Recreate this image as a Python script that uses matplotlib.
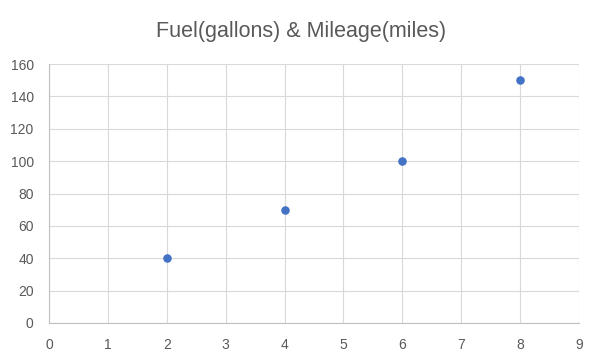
import matplotlib
matplotlib.use("Agg")
import matplotlib.pyplot as plt

fuel = [2, 4, 6, 8]
mileage = [40, 70, 100, 150]
x_ticks = list(range(0, 10))
y_ticks = list(range(0, 161, 20))

plt.rcParams['font.family'] = ['Liberation Sans', 'DejaVu Sans']

fig = plt.figure(figsize=(6.07, 3.64), dpi=100)
ax = fig.add_axes([49/607, 1 - 323/364, 530/607, 259/364])

ax.scatter(fuel, mileage, s=38, color='#4472C4', zorder=3, linewidths=0)

ax.set_xlim(0, 9)
ax.set_ylim(0, 160)
ax.set_xticks(x_ticks)
ax.set_yticks(y_ticks)
ax.grid(True, color='#D9D9D9', linewidth=0.8)
ax.set_axisbelow(True)
for side in ['top', 'right']:
    ax.spines[side].set_visible(False)
for side in ['left', 'bottom']:
    ax.spines[side].set_color('#BFBFBF')
    ax.spines[side].set_linewidth(0.8)
ax.tick_params(length=0, labelsize=10, colors='#595959')
ax.tick_params(axis='x', pad=11)
ax.tick_params(axis='y', pad=11)

fig.text(301/607, 1 - 32/364, 'Fuel(gallons) & Mileage(miles)', ha='center', va='center',
         fontsize=15.5, color='#595959')

fig.savefig('out.png', dpi=100)
